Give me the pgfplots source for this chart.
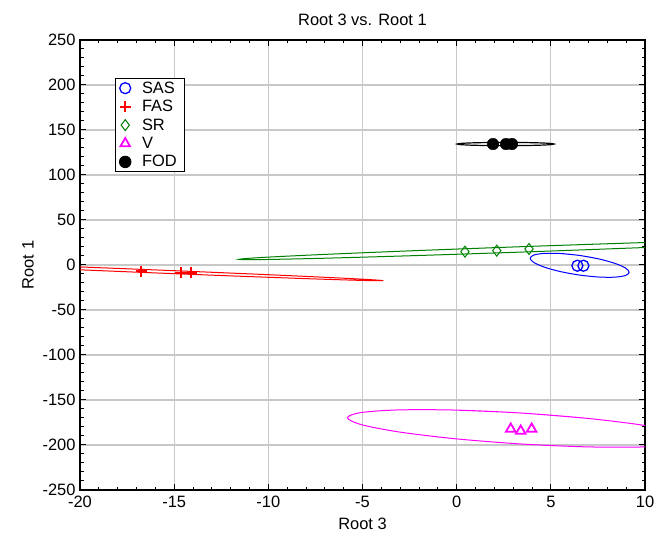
\documentclass[border=0pt]{standalone}
\usepackage{fontspec}
\setmainfont{Liberation Sans}
\usepackage{pgfplots}
\pgfplotsset{compat=1.18}
\definecolor{gridgray}{RGB}{200,200,200}
\definecolor{srgreen}{RGB}{0,128,0}
\definecolor{vmag}{RGB}{255,0,255}
\newcommand{\fs}{\fontsize{16.5}{19}\selectfont}

\begin{document}
\begin{tikzpicture}
\useasboundingbox (-80bp,-49bp) rectangle (576bp,490bp);
\begin{axis}[scale only axis,width=565bp,height=450bp,at={(0,0)},anchor=south west,
  xmin=-20,xmax=10,ymin=-250,ymax=250,
  xtick={-20,-15,...,10},ytick={-250,-200,...,250},
  minor x tick num=4,minor y tick num=4,
  tick align=inside,major tick length=6bp,minor tick length=3.5bp,
  every tick/.style={black,line width=1bp},
  grid=major,major grid style={gridgray,line width=1.1bp},
  axis line style={line width=1.2bp},
  /pgf/number format/assume math mode=true,
  tick label style={font=\fs},label style={font=\fs},title style={font=\fs},
  xticklabel style={yshift=-3bp},yticklabel style={xshift=-1bp},
  title={Root 3 vs. Root 1},xlabel={Root 3},ylabel={Root 1},
  xlabel style={yshift=-3bp},ylabel style={yshift=2bp},
  title style={yshift=5bp},
  legend cell align=left,
  legend style={at={(0.062,0.916)},anchor=north west,draw=black,line width=0.8bp,
    font=\fs,inner xsep=4bp,inner ysep=3bp,row sep=4.5bp,column sep=7bp,
    nodes={inner xsep=4bp,inner ysep=0.5bp}},
  legend image code/.code={\draw[mark repeat=2,mark phase=2,#1] plot coordinates {(0bp,0bp)(11bp,0bp)(22bp,0bp)};},
]
% ellipses
\addplot[red,line width=1bp,smooth,forget plot] coordinates {
(-11.53,-9.38)(-16.28,-5.23)(-21.03,-1.34)(-25.04,1.70)(-27.73,3.44)(-28.67,3.6)(-27.73,2.16)(-25.04,-0.66)(-21.03,-4.42)(-16.28,-8.57)(-11.53,-12.46)(-7.52,-15.50)(-4.83,-17.24)(-3.89,-17.4)(-4.83,-15.96)(-7.52,-13.14)(-11.53,-9.38)(-16.28,-5.23)(-21.03,-1.34)};
\addplot[srgreen,line width=1bp,smooth,forget plot] coordinates {
(9.82,24.84)(3.9,20.7)(-2.02,16.10)(-7.03,11.76)(-10.39,8.32)(-11.56,6.3)(-10.39,6.02)(-7.03,7.52)(-2.02,10.56)(3.9,14.7)(9.82,19.30)(14.83,23.64)(18.19,27.08)(19.36,29.10)(18.19,29.38)(14.83,27.88)(9.82,24.84)(3.9,20.7)(-2.02,16.10)};
\addplot[blue,line width=1bp,smooth,forget plot] coordinates {
(7.54,6.78)(6.53,10.6)(5.52,12.76)(4.67,12.92)(4.10,11.08)(3.90,7.5)(4.10,2.74)(4.67,-2.50)(5.52,-7.38)(6.53,-11.2)(7.54,-13.36)(8.39,-13.52)(8.96,-11.68)(9.16,-8.1)(8.96,-3.34)(8.39,1.90)(7.54,6.78)(6.53,10.6)(5.52,12.76)};
\addplot[vmag,line width=1bp,smooth,forget plot] coordinates {
(6.88,-170.27)(3.37,-164.4)(-0.14,-161.15)(-3.11,-161.03)(-5.10,-164.01)(-5.80,-169.7)(-5.10,-177.19)(-3.11,-185.35)(-0.14,-192.93)(3.37,-198.8)(6.88,-202.05)(9.85,-202.17)(11.84,-199.19)(12.54,-193.5)(11.84,-186.01)(9.85,-177.85)(6.88,-170.27)(3.37,-164.4)(-0.14,-161.15)};
\addplot[black,line width=1.2bp,smooth,forget plot] coordinates {
(3.586,136.06)(2.6,136.2)(1.614,136.06)(0.779,135.67)(0.221,135.09)(0.025,134.4)(0.221,133.71)(0.779,133.13)(1.614,132.74)(2.6,132.6)(3.586,132.74)(4.421,133.13)(4.979,133.71)(5.175,134.4)(4.979,135.09)(4.421,135.67)(3.586,136.06)(2.6,136.2)(1.614,136.06)};
% group points
\addplot[only marks,mark=o,blue,mark size=5.5bp,line width=1.3bp] coordinates {(6.41,-0.8)(6.73,-0.8)};
\addlegendentry{SAS}
\addplot[only marks,mark=+,red,mark size=5.5bp,line width=2bp] coordinates {(-16.76,-6.7)(-14.64,-8.5)(-14.1,-8.5)};
\addlegendentry{FAS}
\addplot[only marks,mark=diamond,srgreen,mark size=5.5bp,line width=1bp] coordinates {(0.44,14.8)(2.13,15.9)(3.84,17.8)};
\addlegendentry{SR}
\addplot[only marks,mark=triangle,vmag,mark size=5.5bp,line width=1.8bp] coordinates {(2.87,-182.2)(3.40,-184.4)(3.98,-182.2)};
\addlegendentry{V}
\addplot[only marks,mark=*,black,mark size=5.8bp] coordinates {(1.93,134.4)(2.62,134.4)(2.94,134.4)};
\addlegendentry{FOD}
\end{axis}
\end{tikzpicture}
\end{document}
